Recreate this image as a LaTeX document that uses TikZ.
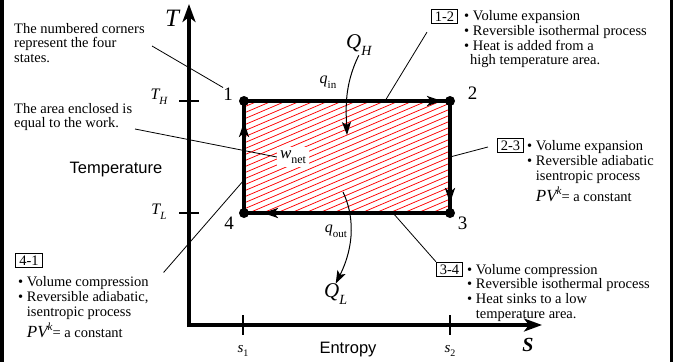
\documentclass[tikz,border=0pt]{standalone}
\usepackage{fontspec}
\setmainfont{Liberation Serif}
\newfontfamily\axsans{Liberation Sans}
\usetikzlibrary{arrows.meta,positioning,calc}
\definecolor{cHatch}{RGB}{255,0,0}
\newcommand{\txtfont}{\fontsize{14.5}{14.7}\selectfont}
\newcommand{\lowidx}[2][11]{\raisebox{-0.3em}{\fontsize{#1}{#1}\selectfont #2}}
\newcommand{\bul}{\textbullet\ }
\newcommand{\ind}{\phantom{\textbullet\ }}
\newcommand{\lines}[1]{\begin{tabular}[t]{@{}l@{}}#1\end{tabular}}
\newcommand{\pvk}{{\fontsize{17}{17}\selectfont\itshape PV}\raisebox{0.5em}{\fontsize{11}{11}\selectfont\itshape k}= a constant}
\tikzset{
	axis/.style      ={line width=4.5pt, -{Stealth[length=18pt, width=13pt, inset=5pt]}},
	tickmark/.style  ={line width=2.7pt},
	cycleline/.style ={line width=3.2pt, line join=miter},
	edgearrow/.style ={line width=3.2pt, -{Stealth[length=15pt, width=10pt, inset=4pt]}},
	heatarrow/.style ={line width=1pt, -{Stealth[length=13pt, width=9pt, inset=3pt]}},
	leader/.style    ={line width=0.8pt},
	hatch/.style     ={cHatch, line width=0.75pt},
	statedot/.style  ={circle, fill=black, minimum size=10pt, inner sep=0pt},
	statelab/.style  ={font=\fontsize{19}{19}\selectfont, inner sep=0pt},
	procbox/.style   ={draw, line width=0.8pt, inner xsep=3.5pt, inner ysep=2.5pt, font=\txtfont},
	proctxt/.style   ={anchor=base west, inner sep=0pt, font=\txtfont},
	symlab/.style    ={inner sep=0pt},
	axlab/.style     ={inner sep=0pt, font=\axsans\fontsize{16.5}{16.5}\selectfont},
}

\begin{document}
\begin{tikzpicture}[x=1pt, y=-1pt]
	\useasboundingbox (0,0) rectangle (673,362);
	% side bars of the frame
	\fill (0,0) rectangle (3.5,362);
	\fill (669.5,0) rectangle (673,362);

	% corners of the cycle
	\coordinate (c1) at (244,101);
	\coordinate (c2) at (450,101);
	\coordinate (c3) at (450,213);
	\coordinate (c4) at (244,213);
	\coordinate (o) at (189,325);
	\coordinate (ytip) at (189,4);
	\coordinate (xtip) at (542,325);

	% hatched area
	\begin{scope}
		\clip (c4) rectangle (c2);
		\foreach \k in {0,...,36}
			\draw[hatch] (244,{101+6*\k}) -- ++(300,-128);
	\end{scope}

	% axes and ticks
	\draw[axis] ($(o)+(0,2)$) -- (ytip);
	\draw[axis] ($(o)+(-2.2,0)$) -- (xtip);
	\draw[tickmark] (179,101) -- (199,101);
	\draw[tickmark] (179,213) -- (199,213);
	\draw[tickmark] (243,315) -- (243,335);
	\draw[tickmark] (450,315) -- (450,335);

	\node[symlab, font=\fontsize{25}{25}\selectfont\itshape] (Tax) at (172,18) {T};
	\node[symlab, font=\fontsize{20}{20}\selectfont\bfseries\itshape] (Sax) at (528,345) {S};
	\node[symlab] (TH) at (159,97) {\fontsize{16}{16}\selectfont\itshape T\lowidx[11]{H}};
	\node[symlab] (TL) at (159,212) {\fontsize{16}{16}\selectfont\itshape T\lowidx[11]{L}};
	\node[symlab] (s1) at (243,351) {\fontsize{15}{15}\selectfont\textit{s}\lowidx[10]{1}};
	\node[symlab] (s2) at (450,351) {\fontsize{15}{15}\selectfont\textit{s}\lowidx[10]{2}};
	\node[axlab] (temp) at (116,170) {Temperature};
	\node[axlab] (entr) at (348,350) {Entropy};

	% notes on the left
	\node[proctxt] (numtxt) at (14,33) {\lines{The numbered corners\\ represent the four\\ states.}};
	\node[proctxt] (areatxt) at (14,113) {\lines{The area enclosed is\\ equal to the work.}};

	% state labels and work label
	\node[statelab] (n1) at (228,94) {1};
	\node[statelab] (n2) at (472.5,93.5) {2};
	\node[statelab] (n3) at (462.5,223) {3};
	\node[statelab] (n4) at (229,223) {4};
	\node[symlab, fill=white, inner xsep=3pt, inner ysep=3pt] (wnet) at (293,157)
		{\fontsize{17}{17}\selectfont\textit{w}\lowidx[12]{net}};

	% process notes
	\node[procbox] (b12) at (444.5,16.5) {1-2};
	\node[proctxt] (t12) at (464,20.7) {\lines{\bul Volume expansion\\ \bul Reversible isothermal process\\ \bul Heat is added from a\\ \hspace*{6pt}high temperature area.}};
	\node[procbox] (b23) at (510.5,145.5) {2-3};
	\node[proctxt] (t23) at (527,150.7) {\lines{\bul Volume expansion\\ \bul Reversible adiabatic\\ \ind isentropic process\\[2pt] \ind\pvk}};
	\node[procbox] (b34) at (449.5,269.5) {3-4};
	\node[proctxt] (t34) at (467,274) {\lines{\bul Volume compression\\ \bul Reversible isothermal process\\ \bul Heat sinks to a low\\ \ind temperature area.}};
	\node[procbox] (b41) at (29,260.5) {4-1};
	\node[proctxt] (t41) at (18,286.7) {\lines{\bul Volume compression\\ \bul Reversible adiabatic,\\ \ind isentropic process\\[2pt] \ind\pvk}};

	% leader lines
	\coordinate (l1) at (152,46);
	\coordinate (l2) at (135,129);
	\coordinate (e12) at (385,101);
	\coordinate (e23) at (450,157);
	\coordinate (e34) at (393,213);
	\coordinate (e41) at (244,180);
	\draw[leader] (l1) -- (n1.north west);
	\draw[leader] (l2) -- (wnet.west);
	\draw[leader] (e12) -- ($(b12.south west)+(-4,8)$);
	\draw[leader] (e23) -- ($(b23.west)+(-9,1.5)$);
	\draw[leader] (e34) -- (b34.north west);
	\draw[leader] (e41) -- ($(b41.east)+(121,12)$);

	% cycle
	\draw[cycleline] (c1) -- (c2) -- (c3) -- (c4) -- cycle;
	\draw[edgearrow] (c1) -- ($(c2)+(-8,0)$);
	\draw[edgearrow] (c2) -- ($(c3)+(0,-10)$);
	\draw[edgearrow] (c3) -- ($(c4)+(19,0)$);
	\draw[edgearrow] (c4) -- ($(c1)+(0,21)$);
	\foreach \c in {c1,c2,c3,c4}
		\node[statedot] at (\c) {};
	\node[symlab, fill=white, inner xsep=3pt, inner ysep=3pt] at (wnet) {\fontsize{17}{17}\selectfont\textit{w}\lowidx[12]{net}};

	% heat flows
	\node[symlab, anchor=west] (QH) at (346,45) {\fontsize{21}{21}\selectfont\itshape Q\lowidx[14]{H}};
	\node[symlab] (qin) at (328,82) {\fontsize{16}{16}\selectfont\textit{q}\lowidx[11]{in}};
	\node[symlab, anchor=west] (QL) at (324,294) {\fontsize{21}{21}\selectfont\itshape Q\lowidx[14]{L}};
	\node[symlab] (qout) at (336,231) {\fontsize{16}{16}\selectfont\textit{q}\lowidx[11]{out}};
	\coordinate (qhtip) at (347,135);
	\coordinate (qlbeg) at (343,192);
	\draw[heatarrow] (QH.south) .. controls (344,85) and (346,110) .. (qhtip);
	\draw[heatarrow] (qlbeg) .. controls (354,215) and (355,245) .. (QL.north);
\end{tikzpicture}
\end{document}
